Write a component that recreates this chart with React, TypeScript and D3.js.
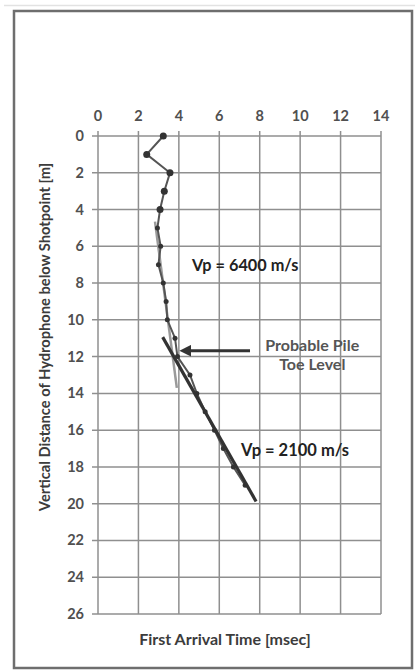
import React from "react";
import { scaleLinear, line, range } from "d3";

// measured first arrival times (msec) against hydrophone depth (m)
const depths = [0, 1, 2, 3, 4, 5, 6, 7, 8, 9, 10, 11, 12, 13, 14, 15, 16, 17, 18, 19];
const times = [3.23, 2.41, 3.56, 3.28, 3.07, 2.94, 3.1, 2.99, 3.23, 3.37, 3.43, 3.81, 3.93, 4.55, 4.89, 5.3, 5.76, 6.2, 6.7, 7.28];

// fitted velocity lines [time, depth]
const fit6400: [number, number][] = [[2.82, 4.66], [3.9, 13.7]];
const fit2100: [number, number][] = [[3.2, 10.94], [7.82, 19.88]];

const xTicks = range(0, 15, 2);
const yTicks = range(0, 27, 2);

const W = 415;
const H = 671;
const font = "Lato, 'Open Sans', sans-serif";

export default function App() {
  const x = scaleLinear().domain([0, 14]).range([98, 381]);
  const y = scaleLinear().domain([0, 26]).range([136, 614]);
  const path = line<[number, number]>()
    .x((d) => x(d[0]))
    .y((d) => y(d[1]));
  const pts: [number, number][] = depths.map((d, i) => [times[i], d]);

  return (
    <svg
      width={W}
      height={H}
      style={{ position: "absolute", left: 0, top: 0, background: "#fff" }}
    >
      <defs>
        <marker id="ah" viewBox="0 0 10 10" refX="2" refY="5" markerWidth="4" markerHeight="4" orient="auto">
          <path d="M0,0 L10,5 L0,10 z" fill="#333" />
        </marker>
      </defs>
      <line x1={4} x2={415} y1={5.5} y2={5.5} stroke="#e2e2e2" strokeWidth={1.5} />
      <rect x={14} y={11} width={398} height={657} fill="#fff" stroke="#6e6e6e" strokeWidth={2.5} />

      {/* grid */}
      <g stroke="#8f8f8f" strokeWidth={1.5}>
        {xTicks.map((t) => (
          <line key={"vx" + t} x1={x(t)} x2={x(t)} y1={y(0) - 5} y2={y(26)} />
        ))}
        {yTicks.map((t) => (
          <line key={"hy" + t} x1={x(0) - 6} x2={x(14)} y1={y(t)} y2={y(t)} />
        ))}
      </g>

      {/* tick labels */}
      <g fontFamily={font} fontSize={14.5} fontWeight="bold" fill="#505050">
        {xTicks.map((t) => (
          <text key={"tx" + t} x={x(t)} y={121} textAnchor="middle">
            {t}
          </text>
        ))}
        {yTicks.map((t) => (
          <text key={"ty" + t} x={84} y={y(t) + 5} textAnchor="end">
            {t}
          </text>
        ))}
      </g>

      {/* axis titles */}
      <text x={225} y={645} textAnchor="middle" fontFamily={font} fontSize={16} fontWeight="bold" fill="#3c3c3c">
        First Arrival Time [msec]
      </text>
      <text
        transform={`translate(50,337) rotate(-90)`}
        textAnchor="middle"
        fontFamily={font}
        fontSize={14.7}
        fontWeight="bold"
        fill="#3c3c3c"
      >
        Vertical Distance of Hydrophone below Shotpoint [m]
      </text>

      {/* data */}
      <path d={path(fit6400) || ""} fill="none" stroke="#9a9a9a" strokeWidth={2.5} />
      <path d={path(pts) || ""} fill="none" stroke="#555" strokeWidth={2} />
      {pts.map((p, i) => (
        <circle key={i} cx={x(p[0])} cy={y(p[1])} r={i < 5 ? 3.5 : 2.5} fill="#333" />
      ))}
      <path d={path(fit2100) || ""} fill="none" stroke="#333" strokeWidth={3.2} />

      {/* arrow */}
      <line
        x1={x(7.52)}
        x2={x(4.5)}
        y1={y(11.68)}
        y2={y(11.68)}
        stroke="#333"
        strokeWidth={3}
        markerEnd="url(#ah)"
      />

      {/* annotations */}
      <g fontFamily={font} fontWeight="bold">
        <text x={x(4.65)} y={y(7.35)} fontSize={16.3} fill="#222">
          Vp = 6400 m/s
        </text>
        <text x={x(10.6)} y={351} fontSize={16} fill="#555" textAnchor="middle">
          Probable Pile
        </text>
        <text x={x(10.6)} y={370} fontSize={16} fill="#555" textAnchor="middle">
          Toe Level
        </text>
        <text x={x(7.08)} y={y(17.4)} fontSize={16.5} fill="#222">
          Vp = 2100 m/s
        </text>
      </g>
    </svg>
  );
}
